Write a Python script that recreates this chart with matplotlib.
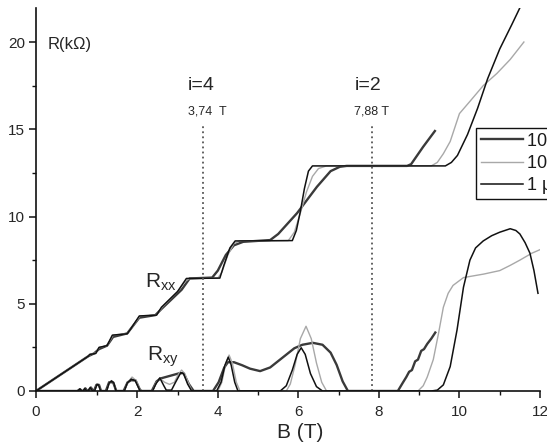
import numpy as np
import matplotlib
matplotlib.use('Agg')
import matplotlib.pyplot as plt

plt.rcParams['font.family'] = ['Liberation Sans', 'DejaVu Sans']
plt.rcParams['mathtext.fontset'] = 'custom'
plt.rcParams['mathtext.rm'] = 'Liberation Sans'
plt.rcParams['mathtext.it'] = 'Liberation Sans:italic'

# ---------------- data (B in T, R in kOhm) ----------------
series_labels = ["10 nA", "100 nA", "1 μA"]

# Hall-like stepped curves
hall_dark_B = [0, 0.86, 0.95, 1.05, 1.25, 1.4, 1.75, 2.05, 2.45, 2.6, 3.1, 3.3, 3.86, 4.0, 4.2,
               4.4, 4.63, 5.3, 5.5, 5.97, 6.46, 6.8, 7.03, 7.2, 8.7, 8.8, 8.95, 9.1, 9.39]
hall_dark_R = [0, 2.0, 2.15, 2.4, 2.6, 3.1, 3.3, 4.2, 4.35, 4.7, 5.8, 6.45, 6.5, 6.9, 7.8,
               8.35, 8.55, 8.65, 9.0, 10.2, 11.7, 12.6, 12.85, 12.9, 12.9, 13.0, 13.5, 14.0, 14.9]

hall_light_B = [0, 0.86, 0.9, 0.98, 1.06, 1.25, 1.4, 1.75, 1.87, 2.07, 2.48, 2.62, 3.0, 3.2, 3.3,
                4.0, 4.1, 4.25, 4.4, 4.55, 5.75, 5.9, 6.05, 6.2, 6.35, 6.5, 6.7, 9.3, 9.45, 9.6,
                9.77, 10.0, 10.26, 10.59, 10.93, 11.26, 11.6]
hall_light_R = [0, 2.0, 2.12, 2.18, 2.5, 2.6, 3.2, 3.3, 3.65, 4.3, 4.36, 4.8, 5.7, 6.3, 6.45,
                6.47, 6.8, 7.8, 8.45, 8.6, 8.62, 9.1, 10.2, 11.4, 12.3, 12.75, 12.9, 12.9, 13.1, 13.6,
                14.3, 15.9, 16.6, 17.5, 18.2, 19.0, 20.0]

hall_black_B = [0, 0.86, 0.88, 0.98, 1.05, 1.25, 1.38, 1.75, 1.85, 2.05, 2.48, 2.6, 3.0, 3.22,
                4.05, 4.15, 4.3, 4.43, 5.85, 5.95, 6.05, 6.15, 6.25, 6.35, 9.65, 9.8, 9.95, 10.2,
                10.45, 10.7, 11.0, 11.3, 11.55]
hall_black_R = [0, 2.0, 2.1, 2.15, 2.5, 2.6, 3.2, 3.28, 3.6, 4.3, 4.35, 4.8, 5.7, 6.45,
                6.47, 7.2, 8.2, 8.6, 8.62, 9.2, 10.3, 11.6, 12.6, 12.9, 12.9, 13.1, 13.5, 14.7,
                16.2, 17.9, 19.6, 21.0, 22.2]

# Oscillating curves
osc_dark_B = [0, 0.68, 0.72, 0.76, 0.78, 0.81, 0.84, 0.86, 0.9, 0.94, 0.95, 0.99, 1.05, 1.1, 1.22,
              1.3, 1.4, 1.48, 1.66, 1.76, 1.85, 1.96, 2.06, 2.1, 2.36, 2.48, 2.58, 3.05, 3.15, 3.28,
              3.4, 3.88, 4.02, 4.16, 4.25, 4.4, 4.6, 4.8, 5.05, 5.3, 5.6, 5.9, 6.1, 6.36, 6.6, 6.8,
              6.95, 7.1, 7.23, 8.47, 8.6, 8.68, 8.75, 8.82, 8.9, 8.97, 9.05, 9.12, 9.2, 9.3, 9.4]
osc_dark_R = [0, 0, 0.1, 0, 0, 0.15, 0, 0, 0.2, 0, 0, 0.35, 0.35, 0, 0,
              0.5, 0.5, 0, 0, 0.5, 0.62, 0.6, 0.1, 0, 0, 0.55, 0.72, 1.02, 1.02, 0.4,
              0, 0, 0.5, 1.35, 1.65, 1.65, 1.48, 1.28, 1.14, 1.35, 1.9, 2.45, 2.65, 2.76, 2.65, 2.2,
              1.5, 0.55, 0, 0, 0.5, 0.8, 1.1, 1.2, 1.7, 1.8, 2.3, 2.4, 2.7, 3.0, 3.35]

osc_light_B = [0, 0.68, 0.72, 0.75, 0.77, 0.8, 0.83, 0.85, 0.89, 0.93, 0.96, 1.0, 1.04, 1.09, 1.24,
               1.3, 1.36, 1.42, 1.47, 1.68, 1.75, 1.87, 1.97, 2.05, 2.08, 2.38, 2.46, 2.56, 2.68, 2.8,
               2.92, 3.02, 3.1, 3.18, 3.28, 3.36, 4.0, 4.1, 4.2, 4.28, 4.36, 4.46, 4.55, 5.7, 5.8,
               5.92, 6.05, 6.19, 6.32, 6.45, 6.58, 6.7, 8.97, 9.1, 9.2, 9.35, 9.48, 9.6, 9.72, 9.84,
               10.1, 10.6, 11.0, 11.26, 11.5, 11.8, 12.0]
osc_light_R = [0, 0, 0.1, 0, 0, 0.15, 0, 0, 0.22, 0, 0, 0.4, 0.38, 0, 0,
               0.45, 0.6, 0.45, 0, 0, 0.45, 0.8, 0.6, 0.15, 0, 0, 0.45, 0.72, 0.5, 0.38,
               0.5, 0.95, 1.2, 1.0, 0.4, 0, 0, 0.5, 1.6, 2.06, 1.6, 0.5, 0, 0, 0.4,
               1.5, 3.0, 3.71, 3.0, 1.6, 0.5, 0, 0, 0.3, 0.8, 1.8, 3.3, 4.8, 5.6, 6.05,
               6.5, 6.7, 6.9, 7.2, 7.5, 7.9, 8.1]

osc_black_B = [0, 0.68, 0.72, 0.75, 0.77, 0.8, 0.83, 0.85, 0.89, 0.93, 0.96, 1.0, 1.04, 1.09, 1.24,
               1.3, 1.36, 1.42, 1.47, 1.68, 1.75, 1.85, 1.95, 2.03, 2.07, 2.38, 2.46, 2.56, 2.66, 2.72,
               2.85, 2.95, 3.08, 3.15, 3.25, 3.35, 3.97, 4.08, 4.18, 4.26, 4.33, 4.42, 4.5, 5.55,
               5.7, 5.85, 5.97, 6.07, 6.17, 6.3, 6.45, 6.6, 9.3, 9.45, 9.6, 9.77, 9.94, 10.1, 10.26,
               10.4, 10.59, 10.8, 11.0, 11.26, 11.4, 11.5, 11.63, 11.75, 11.85, 11.95]
osc_black_R = [0, 0, 0.12, 0, 0, 0.15, 0, 0, 0.2, 0, 0, 0.38, 0.35, 0, 0,
               0.45, 0.58, 0.45, 0, 0, 0.45, 0.68, 0.6, 0.2, 0, 0, 0.4, 0.75, 0.3, 0.05,
               0.05, 0.5, 1.05, 1.0, 0.4, 0, 0, 0.5, 1.5, 1.94, 1.5, 0.5, 0, 0,
               0.3, 1.2, 2.1, 2.48, 2.1, 1.0, 0.25, 0, 0, 0.05, 0.35, 1.4, 3.5, 5.95, 7.5,
               8.2, 8.6, 8.9, 9.1, 9.3, 9.2, 9.0, 8.5, 7.9, 6.9, 5.6]

marker_B = [3.63, 7.83]          # dotted filling-factor markers
marker_top = 15.3
marker_names = ["i=4", "i=2"]
marker_values = ["3,74  T", "7,88 T"]

x_major = [0, 2, 4, 6, 8, 10, 12]
x_minor = [1, 3, 5, 7, 9, 11]
y_major = [0, 5, 10, 15, 20]
y_minor = [2.5, 7.5, 12.5, 17.5]

# ---------------- figure ----------------
W, H = 547, 445
fig = plt.figure(figsize=(W / 100, H / 100), dpi=100)
L, Rr, T, Bt = 36, 540, 8, 391
ax = fig.add_axes([L / W, 1 - Bt / H, (Rr - L) / W, (Bt - T) / H])

k = 61 / 40.27
def fwd(x):
    x = np.asarray(x, float)
    return np.where(x < 1, 1 - (1 - x) * k, x)
def inv(u):
    u = np.asarray(u, float)
    return np.where(u < 1, 1 - (1 - u) / k, u)
ax.set_xscale('function', functions=(fwd, inv))

c_dark, c_light, c_black = '#3a3a3a', '#a8a8a8', '#111111'
lw_dark, lw_light, lw_black = 1.7, 1.0, 1.1

h1, = ax.plot(hall_dark_B, hall_dark_R, color=c_dark, lw=lw_dark, solid_joinstyle='round')
ax.plot(osc_dark_B, osc_dark_R, color=c_dark, lw=lw_dark, solid_joinstyle='round')
h2, = ax.plot(hall_light_B, hall_light_R, color=c_light, lw=lw_light)
ax.plot(osc_light_B, osc_light_R, color=c_light, lw=lw_light)
h3, = ax.plot(hall_black_B, hall_black_R, color=c_black, lw=lw_black)
ax.plot(osc_black_B, osc_black_R, color=c_black, lw=lw_black)

for b in marker_B:
    ax.plot([b, b], [0, marker_top], color='#555555', lw=1.3, linestyle=(0, (1, 1.8)))

ax.set_xlim(0, 12)
ax.set_ylim(0, 21.95)
ax.set_xticks(x_major)
ax.set_xticks(x_minor, minor=True)
ax.set_yticks(y_major)
ax.set_yticks(y_minor, minor=True)
ax.set_xticklabels([str(v) for v in x_major])
ax.set_yticklabels([str(v) for v in y_major])

for s in ['top', 'right']:
    ax.spines[s].set_visible(False)
for s in ['left', 'bottom']:
    ax.spines[s].set_linewidth(1.2)
    ax.spines[s].set_color('#111111')

ax.tick_params(which='major', direction='out', length=5, width=1.1, labelsize=11,
               labelcolor='#262626', color='#111111')
ax.tick_params(which='minor', direction='out', length=3, width=1.0, color='#111111')
ax.tick_params(axis='x', which='major', pad=5)
ax.tick_params(axis='y', which='major', pad=3)

def ftxt(px, py, s, **kw):
    fig.text(px / W, 1 - py / H, s, color='#262626', **kw)

ftxt(300, 433, "B (T)", fontsize=15, ha='center', va='center')
ftxt(48, 45, "R(kΩ)", fontsize=12, ha='left', va='center')
ftxt(201, 85, marker_names[0], fontsize=14, ha='center', va='center')
ftxt(207, 111, marker_values[0], fontsize=9, ha='center', va='center')
ftxt(368, 85, marker_names[1], fontsize=14, ha='center', va='center')
ftxt(372, 111, marker_values[1], fontsize=9, ha='center', va='center')
ftxt(145, 282, r"R$_{\mathrm{xx}}$", fontsize=15, ha='left', va='center')
ftxt(147, 357, r"R$_{\mathrm{xy}}$", fontsize=15, ha='left', va='center')

leg = ax.legend([h1, h2, h3], series_labels, loc='upper left',
                bbox_to_anchor=(476 / W, 1 - 128 / H), bbox_transform=fig.transFigure,
                fontsize=13, frameon=True, fancybox=False, edgecolor='#111111',
                framealpha=1, borderpad=0.25, labelspacing=0.3, handlelength=2.35,
                handletextpad=0.2, borderaxespad=0)
leg.get_frame().set_linewidth(1.0)
for t in leg.get_texts():
    t.set_color('#1a1a1a')

fig.savefig('out.png', dpi=100)
